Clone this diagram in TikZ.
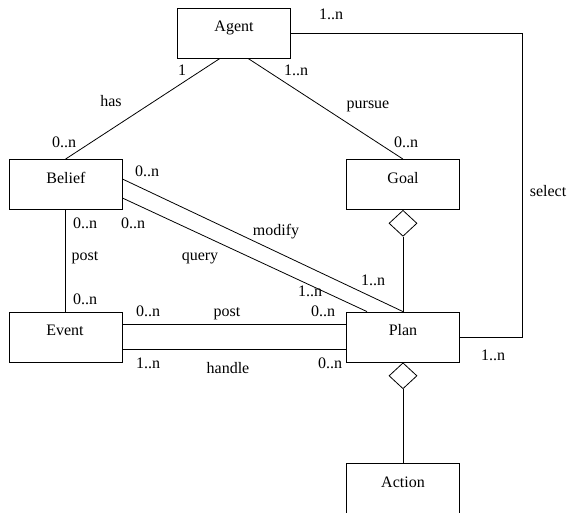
\documentclass[tikz,border=0pt]{standalone}
\usepackage{fontspec}
\setmainfont{Liberation Serif}
\usetikzlibrary{shapes.geometric}
\begin{document}
\begin{tikzpicture}[x=1pt,y=-1pt,
  box/.style={draw,line width=0.8pt,minimum width=113pt,minimum height=50pt,inner sep=0pt},
  lbl/.style={inner sep=0pt,text height=0.68em,text depth=0.2em,font=\rmfamily\fontsize{16}{19}\selectfont},
  agg/.style={draw,line width=0.8pt,diamond,minimum width=28pt,minimum height=26pt,inner sep=0pt,anchor=north,fill=white},
  conn/.style={line width=0.8pt}]
\useasboundingbox (0,0) rectangle (567,513);
\clip (0,0) rectangle (567,513);
% boxes
\node[box] (agent) at (234,33) {};
\node[box] (belief) at (65.5,184.5) {};
\node[box] (goal) at (403,184.5) {};
\node[box] (event) at (65.5,337) {};
\node[box] (plan) at (403,337) {};
\node[box,minimum height=60pt] (action) at (403,493) {};
% box titles
\node[lbl] (tagent) at (234,29) {Agent};
\node[lbl] (tbelief) at (66,181) {Belief};
\node[lbl] (tgoal) at (403,181) {Goal};
\node[lbl] (tevent) at (65,333) {Event};
\node[lbl] (tplan) at (403,333) {Plan};
\node[lbl] (taction) at (403,485) {Action};
% aggregation diamonds
\node[agg] (d1) at (goal.south) {};
\node[agg] (d2) at (plan.south) {};
% connectors
\coordinate (c1) at (522,33);
\draw[conn] (agent.east) -- (c1) |- (plan.east);
\draw[conn] ([xshift=-14pt]agent.south) -- (belief.north);
\draw[conn] ([xshift=14pt]agent.south) -- (goal.north);
\draw[conn] ([yshift=5.5pt]belief.east) -- (plan.north);
\draw[conn] ([yshift=-13.5pt]belief.east) -- ([xshift=-36pt]plan.north);
\draw[conn] (belief.south) -- (event.north);
\draw[conn] ([yshift=13pt]event.east) -- ([yshift=13pt]plan.west);
\draw[conn] ([yshift=-12pt]event.east) -- ([yshift=-12pt]plan.west);
\draw[conn] (d1.south) -- (plan.north);
\draw[conn] (d2.south) -- (action.north);
% labels
\node[lbl] (l1) at (331,17) {1..n};
\node[lbl] (l2) at (182,73) {1};
\node[lbl] (l3) at (111,104) {has};
\node[lbl] (l4) at (296,73) {1..n};
\node[lbl] (l5) at (368,106) {pursue};
\node[lbl] (l6) at (64,145) {0..n};
\node[lbl] (l7) at (406,145) {0..n};
\node[lbl] (l8) at (548,194) {select};
\node[lbl] (l9) at (147,174) {0..n};
\node[lbl] (l10) at (85,226) {0..n};
\node[lbl] (l11) at (133,226) {0..n};
\node[lbl] (l12) at (276,233) {modify};
\node[lbl] (l13) at (85,258) {post};
\node[lbl] (l14) at (200,258) {query};
\node[lbl] (l15) at (373,283) {1..n};
\node[lbl] (l16) at (310,294) {1..n};
\node[lbl] (l17) at (85,302) {0..n};
\node[lbl] (l18) at (148,314) {0..n};
\node[lbl] (l19) at (227,314) {post};
\node[lbl] (l20) at (323,314) {0..n};
\node[lbl] (l21) at (148,366) {1..n};
\node[lbl] (l22) at (228,371) {handle};
\node[lbl] (l23) at (330,366) {0..n};
\node[lbl] (l24) at (493,358) {1..n};
\end{tikzpicture}
\end{document}
